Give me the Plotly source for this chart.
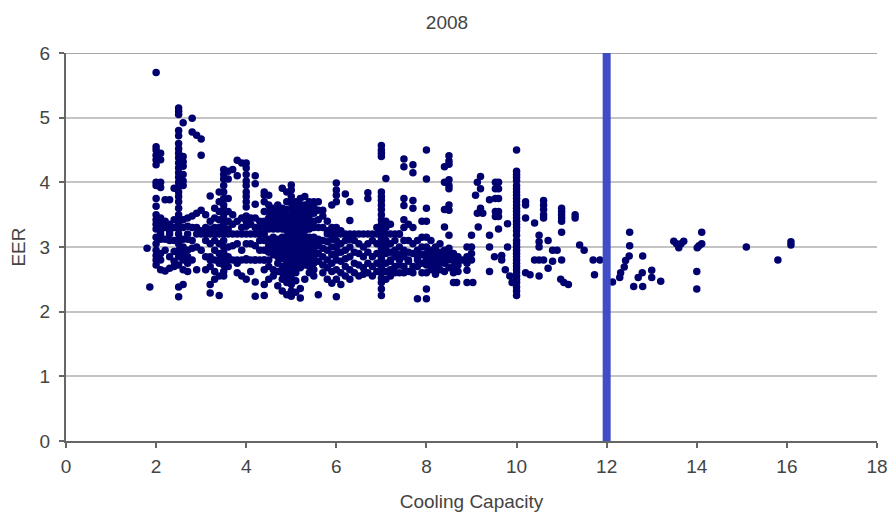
import plotly.graph_objects as go

capacity_columns = [2.0, 2.1, 2.2, 2.3, 2.4, 2.5, 2.6, 2.7, 2.8, 2.9, 3.0, 3.1, 3.2, 3.3, 3.4, 3.5, 3.6, 3.7, 3.8, 3.9,
                    4.0, 4.1, 4.2, 4.3, 4.4, 4.5, 4.6, 4.7, 4.8, 4.9, 5.0, 5.1, 5.2, 5.3, 5.4, 5.5, 5.6, 5.7, 5.8, 5.9,
                    6.0, 6.1, 6.2, 6.3, 6.4, 6.5, 6.6, 6.7, 6.8, 6.9, 7.0, 7.1, 7.2, 7.3, 7.4, 7.5, 7.6, 7.7, 7.8, 7.9,
                    8.0, 8.1, 8.2, 8.3, 8.4, 8.5, 8.6, 8.7, 8.9, 10.0]
eer_columns = [
    [4.55, 4.5, 4.42, 4.35, 4.27, 4.0, 3.95, 3.75, 3.63, 3.5, 3.42, 3.35, 3.28, 3.15, 3.05, 2.95, 2.87, 2.8, 2.72],
    [4.45, 4.35, 4.0, 3.92, 3.45, 3.35, 3.25, 3.12, 2.9, 2.8, 2.65],
    [3.73, 3.4, 3.3, 3.12, 2.95, 2.63],
    [3.73, 3.35, 3.25, 3.1, 2.85, 2.67],
    [3.91, 3.42, 3.3, 3.1, 2.93, 2.78, 2.7],
    [5.15, 5.1, 5.05, 4.8, 4.72, 4.6, 4.52, 4.45, 4.38, 4.3, 4.22, 4.15, 4.08, 4.0, 3.93, 3.85, 3.78, 3.7, 3.6, 3.5, 3.42, 3.35, 3.28, 3.12, 3.05, 2.95, 2.85, 2.72, 2.38, 2.23],
    [4.92, 4.4, 4.32, 4.25, 4.12, 4.02, 3.95, 3.42, 3.3, 3.12, 3.0, 2.9, 2.8, 2.65, 2.42],
    [3.45, 3.32, 3.12, 2.95, 2.85, 2.75, 2.62],
    [4.99, 4.78, 3.48, 3.3, 3.1, 2.98, 2.8],
    [4.73, 3.52, 3.3, 3.0, 2.65],
    [4.67, 4.42, 3.57, 3.25, 2.95],
    [3.5, 3.3, 3.1, 2.85, 2.65],
    [3.79, 3.4, 3.28, 3.05, 2.85, 2.7, 2.42, 2.29],
    [3.6, 3.45, 3.3, 3.1, 2.95, 2.8, 2.62, 2.5],
    [3.85, 3.7, 3.55, 3.42, 3.3, 3.05, 2.9, 2.75, 2.55, 2.25],
    [4.2, 4.12, 4.05, 3.95, 3.85, 3.75, 3.65, 3.58, 3.5, 3.42, 3.35, 3.28, 3.1, 3.0, 2.92, 2.82, 2.72, 2.62, 2.55],
    [4.17, 4.05, 3.75, 3.55, 3.4, 3.28, 3.0, 2.85, 2.7],
    [4.2, 3.5, 3.35, 3.02, 2.8],
    [4.34, 4.1, 3.4, 3.05, 2.75, 2.6],
    [4.3, 3.45, 3.3, 2.95, 2.8, 2.55],
    [4.3, 4.22, 4.12, 4.02, 3.95, 3.85, 3.78, 3.7, 3.62, 3.48, 3.4, 3.32, 3.05, 2.82, 2.5],
    [3.45, 3.35, 3.05, 2.8, 2.62],
    [4.1, 3.98, 3.66, 3.45, 3.3, 3.02, 2.8, 2.46, 2.24],
    [3.4, 3.3, 3.1, 2.95, 2.8],
    [3.85, 3.8, 3.7, 3.55, 3.4, 3.3, 3.1, 2.95, 2.8, 2.65, 2.42, 2.25],
    [3.8, 3.65, 3.55, 3.45, 3.35, 3.28, 3.12, 3.02, 2.92, 2.8, 2.7, 2.5],
    [3.6, 3.5, 3.42, 3.35, 3.28, 3.15, 3.05, 2.98, 2.88, 2.65, 2.55],
    [3.65, 3.55, 3.45, 3.35, 3.28, 3.12, 3.05, 2.95, 2.85, 2.75, 2.62, 2.4],
    [3.91, 3.6, 3.5, 3.42, 3.35, 3.28, 3.15, 3.08, 3.0, 2.92, 2.82, 2.7, 2.6, 2.5, 2.32],
    [3.85, 3.7, 3.58, 3.48, 3.4, 3.32, 3.25, 3.15, 3.08, 3.0, 2.92, 2.85, 2.75, 2.65, 2.55, 2.45, 2.26],
    [3.96, 3.88, 3.78, 3.68, 3.58, 3.48, 3.4, 3.32, 3.25, 3.15, 3.08, 3.02, 2.95, 2.88, 2.8, 2.72, 2.62, 2.52, 2.42, 2.32, 2.24],
    [3.7, 3.6, 3.52, 3.45, 3.38, 3.3, 3.25, 3.15, 3.08, 3.0, 2.92, 2.85, 2.78, 2.7, 2.6, 2.48, 2.3],
    [3.75, 3.65, 3.58, 3.5, 3.42, 3.35, 3.28, 3.22, 3.15, 3.1, 3.05, 2.98, 2.9, 2.82, 2.75, 2.68, 2.36, 2.21],
    [3.78, 3.65, 3.55, 3.48, 3.4, 3.32, 3.25, 3.15, 3.08, 3.0, 2.95, 2.85, 2.78, 2.72, 2.5],
    [3.7, 3.6, 3.5, 3.42, 3.35, 3.28, 3.15, 3.08, 3.02, 2.95, 2.88, 2.8, 2.7, 2.6],
    [3.7, 3.62, 3.52, 3.4, 3.3, 3.15, 3.05, 2.95, 2.85, 2.75, 2.65, 2.55],
    [3.7, 3.57, 3.42, 3.3, 3.12, 3.02, 2.9, 2.78, 2.26],
    [3.57, 3.48, 3.3, 3.1, 2.98, 2.85, 2.72, 2.6],
    [3.4, 3.25, 3.08, 2.95, 2.8, 2.68, 2.5],
    [3.65, 3.3, 3.12, 3.0, 2.88, 2.75, 2.62, 2.44],
    [3.99, 3.88, 3.8, 3.7, 3.3, 3.1, 3.0, 2.9, 2.8, 2.65, 2.5, 2.23],
    [3.25, 3.05, 2.92, 2.78, 2.6, 2.42],
    [3.82, 3.1, 2.95, 2.82, 2.7, 2.55],
    [3.7, 3.41, 3.12, 3.0, 2.85, 2.65, 2.5],
    [3.1, 2.92, 2.75, 2.6],
    [3.05, 2.9, 2.72, 2.55],
    [3.0, 2.85, 2.68, 2.58],
    [3.84, 3.75, 3.05, 2.92, 2.75, 2.6],
    [3.1, 2.85, 2.7, 2.55],
    [3.3, 3.05, 2.9, 2.75, 2.62],
    [4.57, 4.5, 4.45, 4.4, 3.85, 3.78, 3.72, 3.65, 3.58, 3.5, 3.42, 3.35, 3.28, 3.12, 3.05, 2.98, 2.9, 2.82, 2.75, 2.68, 2.6, 2.52, 2.45, 2.35, 2.25],
    [4.06, 3.4, 3.3, 3.1, 3.0, 2.9, 2.75, 2.62, 2.5],
    [3.35, 3.05, 2.92, 2.78, 2.65, 2.55],
    [3.1, 2.95, 2.85, 2.7, 2.6],
    [3.2, 3.0, 2.88, 2.72, 2.6],
    [4.36, 4.24, 3.75, 3.64, 3.42, 3.3, 3.1, 2.95, 2.85, 2.7, 2.6],
    [3.35, 3.1, 2.92, 2.78, 2.62],
    [4.27, 4.15, 3.72, 3.6, 3.3, 3.05, 2.9, 2.7, 2.6],
    [3.1, 2.95, 2.85, 2.7, 2.2],
    [3.4, 3.15, 3.0, 2.88, 2.75, 2.6],
    [4.5, 4.05, 3.6, 3.4, 3.15, 3.0, 2.9, 2.82, 2.72, 2.6, 2.35, 2.2],
    [3.1, 2.95, 2.85, 2.75, 2.65],
    [3.0, 2.9, 2.78, 2.68, 2.58],
    [3.05, 2.92, 2.85, 2.75, 2.65],
    [4.24, 4.0, 3.58, 3.31, 2.95, 2.85, 2.75, 2.62],
    [4.41, 4.33, 4.28, 4.04, 3.95, 3.9, 3.65, 3.57, 3.18, 2.98, 2.88, 2.8, 2.68],
    [2.9, 2.8, 2.7, 2.6, 2.45],
    [2.85, 2.8, 2.72, 2.62],
    [3.0, 2.85, 2.75, 2.64, 2.45],
    [4.5, 4.17, 4.12, 4.08, 4.03, 3.95, 3.9, 3.85, 3.8, 3.75, 3.7, 3.65, 3.6, 3.55, 3.5, 3.45, 3.4, 3.35, 3.3, 3.25, 3.18, 3.1, 3.05, 3.0, 2.95, 2.9, 2.85, 2.8, 2.75, 2.7, 2.65, 2.6, 2.55, 2.5, 2.45, 2.38, 2.32, 2.25],
]

row_320_capacity = [2.1, 2.3, 2.5, 2.7, 2.9, 3.0, 3.1, 3.2, 3.3, 3.4, 3.5, 3.6, 3.7, 3.8, 3.9, 4.0, 4.1, 4.2, 4.3, 4.4,
                    5.8, 5.9, 6.0, 6.1, 6.2, 6.3, 6.4, 6.5, 6.6, 6.7, 6.8, 6.9, 7.0, 7.1, 7.2, 7.3, 7.4]
row_280_capacity = [3.2, 3.4, 3.6, 3.8, 4.0, 4.2, 4.4, 7.0, 7.2, 7.4, 7.6, 7.8, 8.0, 8.2, 8.4, 8.6, 8.8]

scatter_capacity = [1.8, 1.86, 2.0, 9.0, 9.0, 9.0, 9.0, 8.67, 9.03, 9.2, 9.13, 9.2, 9.09, 9.2, 9.13, 9.25, 9.15, 9.4, 9.4, 9.51, 9.4,
                    9.53, 9.6, 9.53, 9.6, 9.53, 9.6, 9.4, 9.53, 9.6, 9.53, 9.6, 9.6, 9.8, 9.8, 9.67, 9.67, 9.75, 9.85, 9.9,
                    10.2, 10.2, 10.2, 10.4, 10.6, 10.6, 10.6, 10.6, 10.6, 10.5, 10.5, 10.5, 10.7, 10.8, 10.9, 10.5, 10.4, 10.6, 10.8, 11.0,
                    11.0, 11.0, 11.0, 11.0, 11.0, 11.0, 11.3, 11.3, 11.4, 11.5, 11.7, 11.85, 11.73, 10.98, 11.05, 11.15, 10.2, 10.3, 10.5, 10.7,
                    12.13, 12.29, 12.31, 12.39, 12.42, 12.5, 12.51, 12.51, 12.6, 12.7, 12.79, 12.8, 12.8, 13.0, 13.0, 13.2,
                    13.49, 13.55, 13.6, 13.65, 13.71, 14.0, 14.0, 14.01, 14.05, 14.11, 14.11, 15.1, 15.8, 16.09, 16.09]
scatter_eer = [2.98, 2.38, 5.7, 3.18, 3.0, 2.9, 2.8, 2.45, 2.45, 4.09, 4.0, 3.9, 3.8, 3.6, 3.52, 3.52, 3.31, 3.18, 3.0, 2.85, 2.62,
               4.0, 4.0, 3.9, 3.9, 3.75, 3.75, 3.73, 3.55, 3.55, 3.47, 3.47, 3.28, 3.36, 3.0, 2.87, 2.8, 2.65, 2.55, 2.45,
               3.7, 3.65, 3.45, 3.37, 3.72, 3.65, 3.58, 3.5, 3.45, 3.18, 3.08, 3.0, 3.1, 2.95, 2.95, 2.8, 2.8, 2.8, 2.78, 2.8,
               3.6, 3.55, 3.5, 3.45, 3.4, 3.23, 3.5, 3.45, 3.03, 2.95, 2.8, 2.8, 2.57, 2.5, 2.45, 2.42, 2.6, 2.57, 2.55, 2.67,
               2.46, 2.53, 2.6, 2.69, 2.79, 2.86, 3.23, 3.02, 2.39, 2.53, 2.6, 2.86, 2.39, 2.64, 2.53, 2.47,
               3.09, 3.05, 2.99, 3.05, 3.09, 2.62, 2.35, 2.99, 3.02, 3.23, 3.05, 3.0, 2.8, 3.08, 3.03]

threshold_x = [12, 12]
threshold_y = [0, 6.05]
x_ticks = [0, 2, 4, 6, 8, 10, 12, 14, 16, 18]
y_ticks = [0, 1, 2, 3, 4, 5, 6]
top_grid_x = [0, 18]
top_grid_y = [6, 6]

points_x, points_y = [], []
for capacity, values in zip(capacity_columns, eer_columns):
    points_x += [capacity] * len(values)
    points_y += values
points_x += row_320_capacity + row_280_capacity + scatter_capacity
points_y += [3.2] * len(row_320_capacity) + [2.8] * len(row_280_capacity) + scatter_eer

FONT = "Liberation Sans, Arial, sans-serif"
TEXT = "#444444"
SIZE = 19

fig = go.Figure()
fig.add_trace(go.Scatter(x=top_grid_x, y=top_grid_y, mode="lines",
                         line=dict(color="#a8a8a8", width=2), cliponaxis=False))
fig.add_trace(go.Scatter(x=points_x, y=points_y, mode="markers",
                         marker=dict(symbol="circle", size=7.5, color="#00006e", line=dict(width=0)),
                         cliponaxis=False))
fig.add_trace(go.Scatter(x=threshold_x, y=threshold_y, mode="lines",
                         line=dict(color="#3f4ec6", width=8), cliponaxis=False))
fig.update_layout(
    width=896, height=522, showlegend=False,
    paper_bgcolor="white", plot_bgcolor="white",
    margin=dict(l=66, r=19, t=53, b=81),
    font=dict(family=FONT, size=SIZE, color=TEXT),
    title=dict(text="2008", x=447 / 896, xanchor="center", y=1 - 22 / 522, yanchor="middle",
               font=dict(family=FONT, size=SIZE, color=TEXT)),
    xaxis=dict(range=[0, 18], tickvals=x_ticks, showgrid=False, zeroline=False, showline=True,
               linecolor="#666666", linewidth=2, ticks="outside", ticklen=5, tickwidth=2, tickcolor="#666666",
               ticklabelstandoff=2, ticklabeloverflow="allow", automargin="bottom",
               title=dict(text="Cooling Capacity", standoff=19, font=dict(size=SIZE, color=TEXT)),
               tickfont=dict(size=SIZE, color=TEXT)),
    yaxis=dict(range=[0, 6], tickvals=y_ticks, showgrid=True, gridcolor="#c4c4c4", gridwidth=2, zeroline=False,
               showline=True, linecolor="#666666", linewidth=2, ticks="outside", ticklen=5, tickwidth=2,
               tickcolor="#666666", ticklabelstandoff=5, automargin="left",
               title=dict(text="EER", standoff=9, font=dict(size=SIZE, color=TEXT)),
               tickfont=dict(size=SIZE, color=TEXT)),
)
fig.write_html("out.html", default_width="896px", default_height="522px",
               config=dict(displayModeBar=False),
               post_script="document.body.style.margin='0';document.documentElement.style.overflow='hidden';")
